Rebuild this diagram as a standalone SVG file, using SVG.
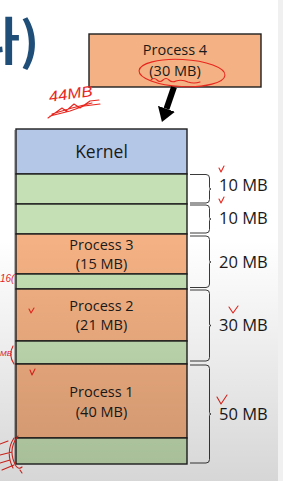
<svg xmlns="http://www.w3.org/2000/svg" width="283" height="481" viewBox="0 0 283 481">
<style>
.box{stroke:#1e1e1e;stroke-width:1.4}
.kernel{fill:#b4c7e7}
.free{fill:#c5e0b4}
.proc{fill:#f4b183}
.lbl{font-family:"Open Sans","Noto Sans",sans-serif;fill:#1a1a1a;text-anchor:middle}
.size{font-family:"Open Sans","Noto Sans",sans-serif;fill:#1a1a1a;font-size:16.5px}
.brace{fill:none;stroke:#3a3a3a;stroke-width:1}
.red{fill:none;stroke:#e8261e;stroke-width:1.1;stroke-linecap:round;stroke-linejoin:round}
.redt{font-family:"Liberation Sans",sans-serif;fill:#e8261e;font-style:italic}
</style>
<defs>
<linearGradient id="vig" x1="0" y1="0" x2="0" y2="1">
<stop offset="0" stop-color="#000" stop-opacity="0"/>
<stop offset="0.5" stop-color="#000" stop-opacity="0"/>
<stop offset="1" stop-color="#000" stop-opacity="0.16"/>
</linearGradient>
<marker id="head" markerUnits="userSpaceOnUse" viewBox="0 0 14 18" refX="0" refY="9" markerWidth="14" markerHeight="18" orient="auto">
<path d="M0,0 L14,9 L0,18 z" fill="#000"/>
</marker>
</defs>
<rect x="0" y="0" width="283" height="481" fill="#ffffff"/>

<text x="-27" y="60" font-family="'Noto Sans CJK KR',sans-serif" font-weight="bold" font-size="51" fill="#1f4e79">라)</text>

<g id="process4">
<rect class="box proc" x="89" y="34" width="172" height="53"/>
<text class="lbl" x="175" y="55" font-size="14.5">Process 4</text>
<text class="lbl" x="175" y="76" font-size="14.5">(30 MB)</text>
</g>

<g id="memory">
<line x1="14.8" y1="130" x2="14.8" y2="464" stroke="#9a9a9a" stroke-width="1"/>
<g id="kernel">
<rect class="box kernel" x="16" y="129" width="171" height="45"/>
<text class="lbl" x="101.5" y="158" font-size="17.5">Kernel</text>
</g>
<g id="free1"><rect class="box free" x="16" y="174" width="171" height="30"/></g>
<g id="free2"><rect class="box free" x="16" y="204" width="171" height="30"/></g>
<g id="process3">
<rect class="box proc" x="16" y="234" width="171" height="40"/>
<text class="lbl" x="101.5" y="249.5" font-size="14.5">Process 3</text>
<text class="lbl" x="101.5" y="269" font-size="14.5">(15 MB)</text>
</g>
<g id="free3"><rect class="box free" x="16" y="274" width="171" height="15"/></g>
<g id="process2">
<rect class="box proc" x="16" y="289" width="171" height="52"/>
<text class="lbl" x="101.5" y="310.5" font-size="14.5">Process 2</text>
<text class="lbl" x="101.5" y="330" font-size="14.5">(21 MB)</text>
</g>
<g id="free4"><rect class="box free" x="16" y="341" width="171" height="23"/></g>
<g id="process1">
<rect class="box proc" x="16" y="364" width="171" height="74"/>
<text class="lbl" x="101.5" y="396.5" font-size="14.5">Process 1</text>
<text class="lbl" x="101.5" y="416.5" font-size="14.5">(40 MB)</text>
</g>
<g id="free5"><rect class="box free" x="16" y="438" width="171" height="26"/></g>
</g>

<g id="partitions">
<path class="brace" d="M190,174.5 L206,174.5 Q209.5,174.5 209.5,178 L209.5,187.5 Q209.5,189 211,189 Q209.5,189 209.5,190.5 L209.5,199.5 Q209.5,203 206,203 L190,203"/>
<path class="brace" d="M190,205 L206,205 Q209.5,205 209.5,208.5 L209.5,217.5 Q209.5,219 211,219 Q209.5,219 209.5,220.5 L209.5,229.5 Q209.5,233 206,233 L190,233"/>
<path class="brace" d="M190,236 L206,236 Q209.5,236 209.5,239.5 L209.5,260.5 Q209.5,262 211,262 Q209.5,262 209.5,263.5 L209.5,284 Q209.5,287.5 206,287.5 L190,287.5"/>
<path class="brace" d="M190,290 L206,290 Q209.5,290 209.5,293.5 L209.5,324 Q209.5,325.5 211,325.5 Q209.5,325.5 209.5,327 L209.5,357.5 Q209.5,361 206,361 L190,361"/>
<path class="brace" d="M190,365 L206,365 Q209.5,365 209.5,368.5 L209.5,412.5 Q209.5,414 211,414 Q209.5,414 209.5,415.5 L209.5,459.5 Q209.5,463 206,463 L190,463"/>
<text class="size" x="219" y="191">10 MB</text>
<text class="size" x="219" y="224">10 MB</text>
<text class="size" x="219" y="267.5">20 MB</text>
<text class="size" x="219" y="330.5">30 MB</text>
<text class="size" x="219" y="420">50 MB</text>
</g>

<g id="connectors">
<line x1="174" y1="87" x2="166.5" y2="108.8" stroke="#000" stroke-width="6" marker-end="url(#head)"/>
</g>

<g id="annotations">
<ellipse class="red" cx="182" cy="73" rx="43" ry="13.5" transform="rotate(3 182 73)"/>
<path class="red" d="M151,80 Q154,77 157,80 Q160,83 163,80 Q166,77 169,80 Q172,83 176,81 Q182,79 188,82 Q194,84 200,82"/>
<text class="redt" x="48" y="99" font-size="15" textLength="44" lengthAdjust="spacingAndGlyphs" transform="rotate(-8 70 90)">44MB</text>
<path class="red" d="M48,118 L62,108 L66,111 L74,104 L80,108 L90,101 L99,100 M50,116 L70,111 L84,106 L100,104 M52,114 L72,108 L92,103"/>
<path class="red" d="M219,168 L221,172 L224,166"/>
<path class="red" d="M219,199 L221,203 L224,197"/>
<path class="red" d="M229,307 L233,313 L238,306"/>
<path class="red" d="M217,397 L221,404 L227,395"/>
<path class="red" d="M29,309 L31,313 L34,308"/>
<path class="red" d="M30,370 L32,375 L35,369"/>
<text class="redt" x="0" y="282" font-size="10">16(</text>
<text class="redt" x="0" y="356" font-size="8" textLength="12" lengthAdjust="spacingAndGlyphs">MB</text>
<path class="red" d="M13,346 Q8,355 14,364"/>
<path class="red" d="M18,436 Q7,450 16,466 Q19,470 22,467 M14,438 Q5,452 13,468 M0,444 L8,441 M0,455 L12,452 M0,463 L10,460 M2,470 L14,465 M20,470 L22,473"/>
</g>

<rect x="0" y="0" width="278" height="481" fill="url(#vig)"/>
<rect x="278" y="0" width="5" height="481" fill="#f0f0f0"/>
</svg>
